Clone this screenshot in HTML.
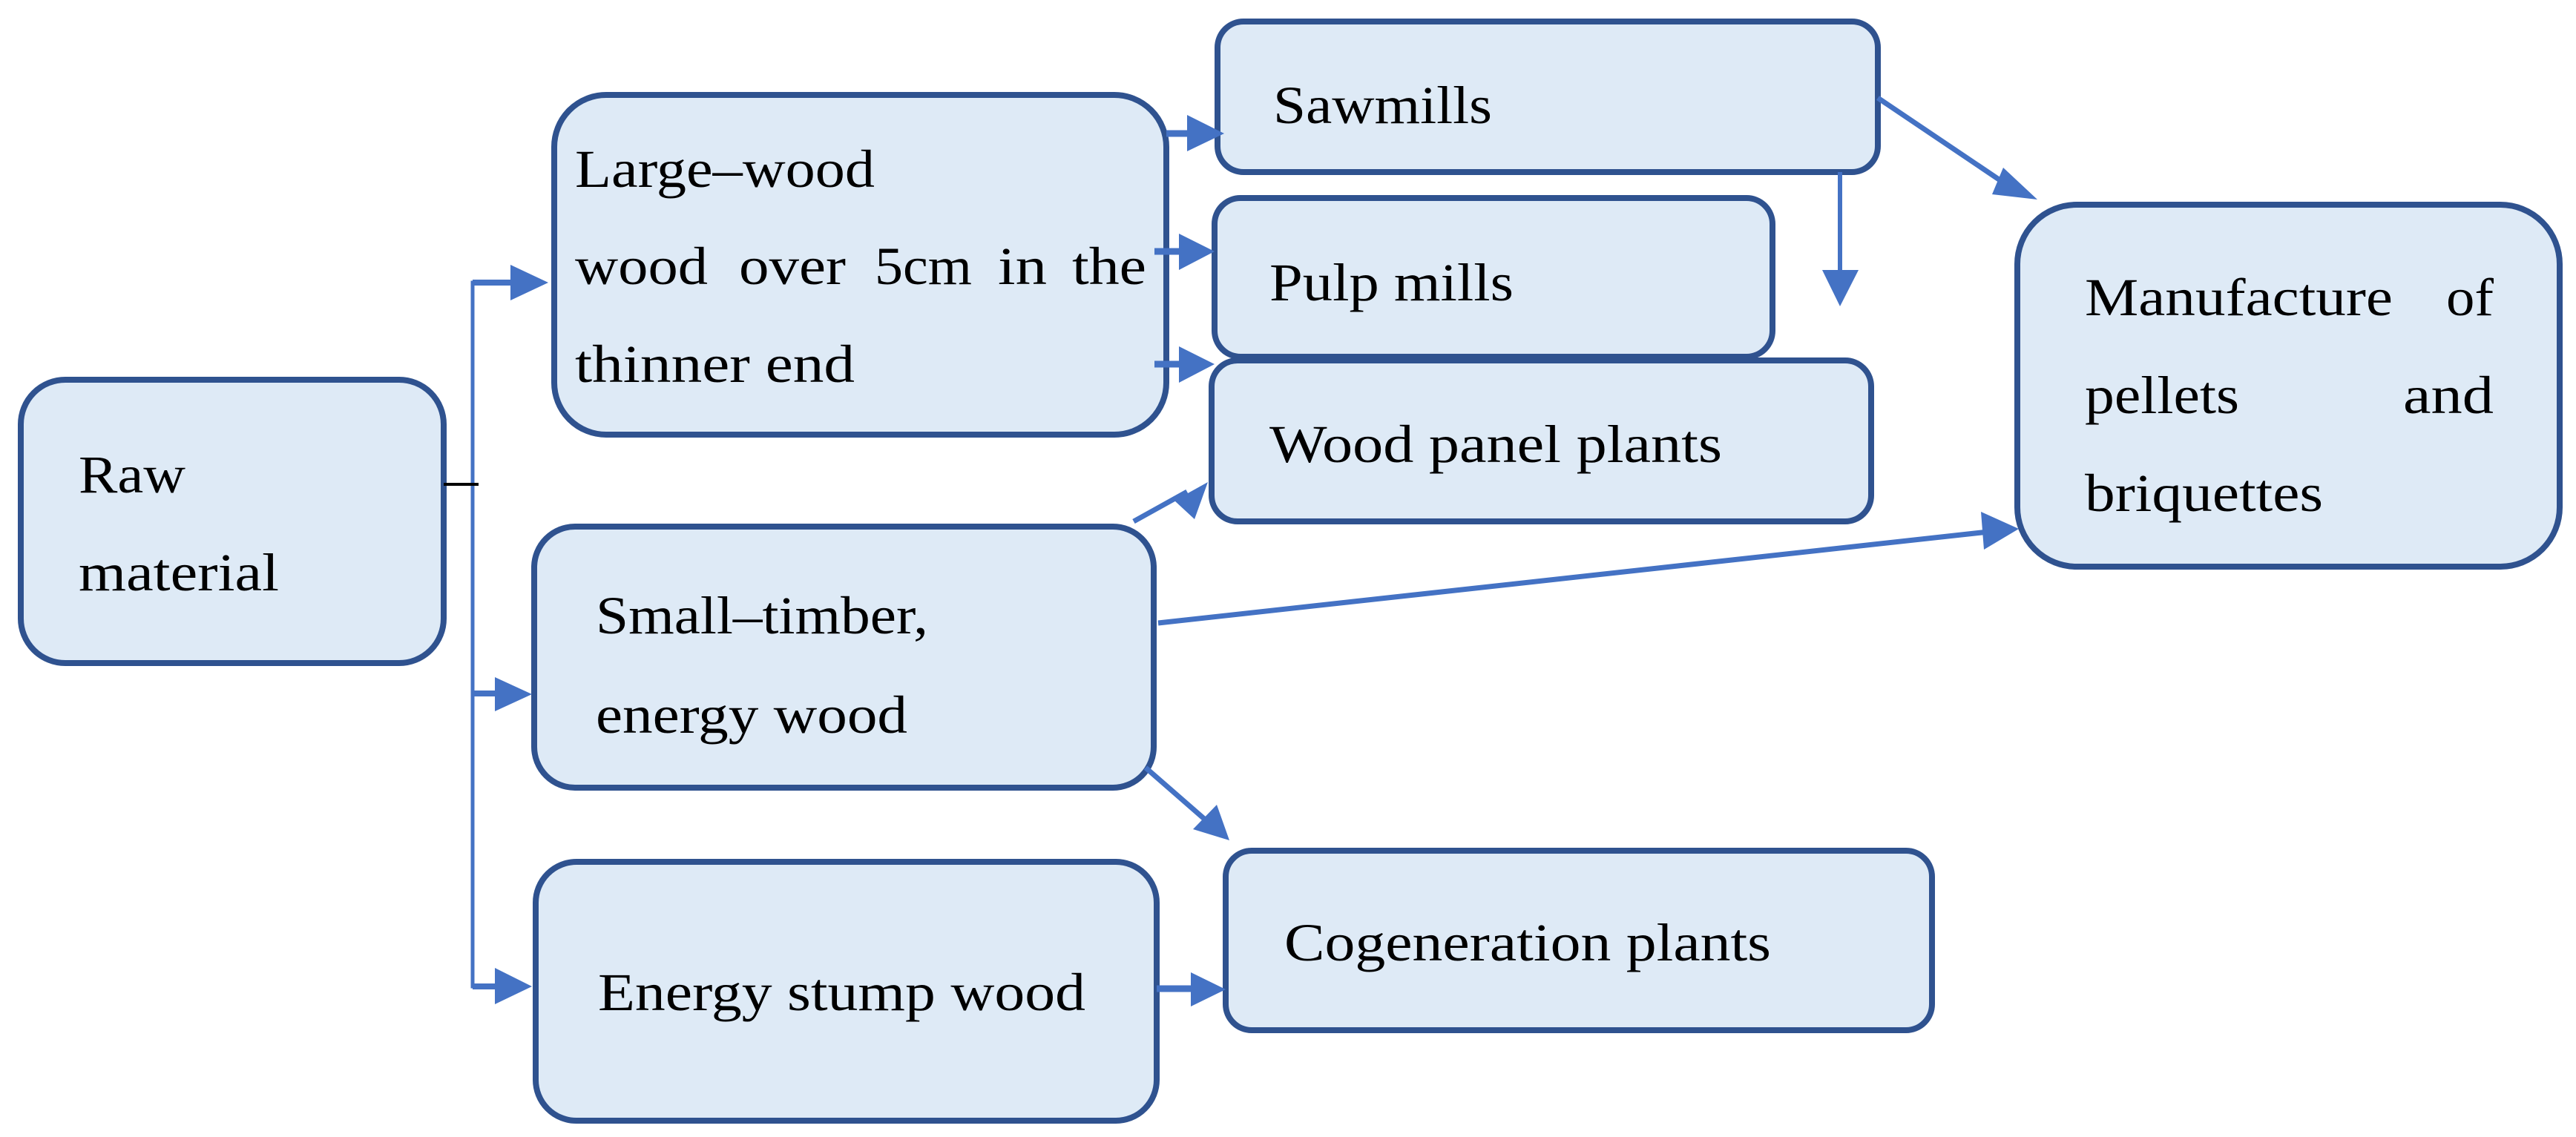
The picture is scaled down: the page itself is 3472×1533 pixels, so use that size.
<!DOCTYPE html>
<html><head><meta charset="utf-8"><style>html,body{margin:0;padding:0;background:#fff}svg{display:block}</style></head>
<body>
<svg width="3472" height="1533" viewBox="0 0 3472 1533" xmlns="http://www.w3.org/2000/svg" font-family="'Liberation Serif', serif" font-size="72" fill="#000">
<g fill="#deeaf6" stroke="#2f528f" stroke-width="8">
<rect x="28" y="512" width="570" height="382" rx="60"/>
<rect x="747" y="128" width="825" height="458" rx="70"/>
<rect x="1641" y="29" width="890" height="203" rx="35"/>
<rect x="1637" y="267" width="752" height="214" rx="35"/>
<rect x="1633" y="486" width="889" height="217" rx="35"/>
<rect x="2719" y="276" width="731" height="488" rx="80"/>
<rect x="720" y="710" width="835" height="352" rx="55"/>
<rect x="722" y="1162" width="837" height="349" rx="55"/>
<rect x="1652" y="1147" width="952" height="242" rx="35"/>
</g>
<g stroke="#4472c4" fill="#4472c4">
<polyline points="690,381 637,381 637,1330 690,1330" fill="none" stroke-width="5"/>
<line x1="637" y1="935" x2="690" y2="935" stroke-width="8"/>
<line x1="637" y1="381" x2="690" y2="381" stroke-width="8"/>
<line x1="637" y1="1330" x2="690" y2="1330" stroke-width="8"/>
<path d="M688,357 L739,381 L688,405 z" stroke="none"/>
<path d="M667,913 L717,936 L667,959 z" stroke="none"/>
<path d="M667,1305 L717,1330 L667,1354 z" stroke="none"/>
<line x1="1572" y1="180" x2="1605" y2="180" stroke-width="9"/>
<path d="M1600,155 L1650,180 L1600,204 z" stroke="none"/>
<line x1="1556" y1="339" x2="1592" y2="339" stroke-width="9"/>
<path d="M1589,315 L1637,339 L1589,364 z" stroke="none"/>
<line x1="1556" y1="491" x2="1592" y2="491" stroke-width="9"/>
<path d="M1589,467 L1637,491 L1589,516 z" stroke="none"/>
<line x1="1559" y1="1333" x2="1610" y2="1333" stroke-width="9"/>
<path d="M1605,1311 L1652,1334 L1605,1357 z" stroke="none"/>
<line x1="2480" y1="232" x2="2480" y2="370" stroke-width="6"/>
<path d="M2456,364 L2505,364 L2480,413 z" stroke="none"/>
<line x1="1528" y1="703" x2="1600" y2="663" stroke-width="7"/>
<line x1="2531" y1="132" x2="2715" y2="256" stroke-width="7"/>
<line x1="1561" y1="840" x2="2680" y2="717" stroke-width="7"/>
<line x1="1544" y1="1035" x2="1630" y2="1110" stroke-width="7"/>
<path d="M1583,675 L1628,650 L1610,700 z" stroke="none"/>
<path d="M2700,226 L2746,269 L2685,262 z" stroke="none"/>
<path d="M2670,690 L2721,713 L2674,741 z" stroke="none"/>
<path d="M1608,1118 L1657,1133 L1640,1085 z" stroke="none"/>
</g>
<line x1="598" y1="653" x2="645" y2="653" stroke="#000" stroke-width="4"/>
<text x="106" y="664" textLength="144" lengthAdjust="spacingAndGlyphs">Raw</text>
<text x="106" y="796" textLength="270" lengthAdjust="spacingAndGlyphs">material</text>
<text x="775" y="252" textLength="404" lengthAdjust="spacingAndGlyphs">Large–wood</text>
<text x="775" y="383" textLength="179" lengthAdjust="spacingAndGlyphs">wood</text>
<text x="996" y="383" textLength="144" lengthAdjust="spacingAndGlyphs">over</text>
<text x="1179" y="383" textLength="131" lengthAdjust="spacingAndGlyphs">5cm</text>
<text x="1345" y="383" textLength="66" lengthAdjust="spacingAndGlyphs">in</text>
<text x="1445" y="383" textLength="100" lengthAdjust="spacingAndGlyphs">the</text>
<text x="775" y="515" textLength="377" lengthAdjust="spacingAndGlyphs">thinner end</text>
<text x="1716" y="166" textLength="295" lengthAdjust="spacingAndGlyphs">Sawmills</text>
<text x="1711" y="405" textLength="329" lengthAdjust="spacingAndGlyphs">Pulp mills</text>
<text x="1711" y="623" textLength="610" lengthAdjust="spacingAndGlyphs">Wood panel plants</text>
<text x="2810" y="425" textLength="415" lengthAdjust="spacingAndGlyphs">Manufacture</text>
<text x="3297" y="425" textLength="64" lengthAdjust="spacingAndGlyphs">of</text>
<text x="2810" y="557" textLength="208" lengthAdjust="spacingAndGlyphs">pellets</text>
<text x="3239" y="557" textLength="122" lengthAdjust="spacingAndGlyphs">and</text>
<text x="2810" y="689" textLength="321" lengthAdjust="spacingAndGlyphs">briquettes</text>
<text x="803" y="854" textLength="448" lengthAdjust="spacingAndGlyphs">Small–timber,</text>
<text x="803" y="988" textLength="420" lengthAdjust="spacingAndGlyphs">energy wood</text>
<text x="806" y="1362" textLength="657" lengthAdjust="spacingAndGlyphs">Energy stump wood</text>
<text x="1731" y="1295" textLength="656" lengthAdjust="spacingAndGlyphs">Cogeneration plants</text>
</svg>
</body></html>
